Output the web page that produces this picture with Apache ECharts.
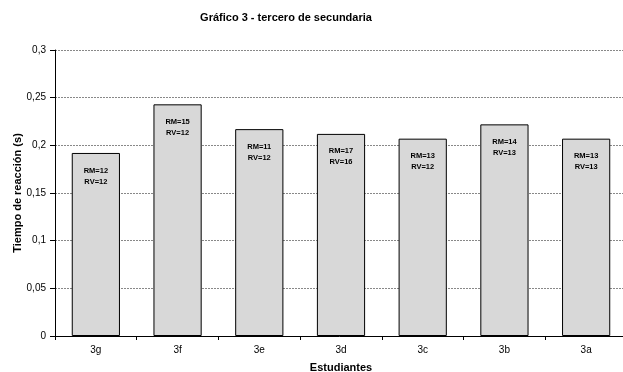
<!DOCTYPE html>
<html>
<head>
<meta charset="utf-8">
<script src="https://cdn.jsdelivr.net/npm/echarts@6/dist/echarts.min.js"></script>
<style>
  html, body { margin: 0; padding: 0; background: #fff; }
  #chart { width: 623px; height: 372px; }
</style>
</head>
<body>
<div id="chart"></div>
<script>
// Students (groups) and their mean reaction time in seconds
const categories = ['3g', '3f', '3e', '3d', '3c', '3b', '3a'];
const reactionTimes = [0.192, 0.243, 0.217, 0.212, 0.207, 0.222, 0.207];
const rmValues = [12, 15, 11, 17, 13, 14, 13];
const rvValues = [12, 12, 12, 16, 12, 13, 13];
const yTicks = [0, 0.05, 0.1, 0.15, 0.2, 0.25, 0.3];

const chart = echarts.init(document.getElementById('chart'), null, { renderer: 'canvas' });

const fmtComma = v => String(Math.round(v * 1000) / 1000).replace('.', ',');

chart.setOption({
  animation: false,
  backgroundColor: '#ffffff',
  textStyle: { fontFamily: 'Liberation Sans, Arial, sans-serif' },
  title: {
    text: 'Gráfico 3 - tercero de secundaria',
    left: 281,
    top: 7,
    textAlign: 'center',
    textStyle: { fontSize: 11, fontWeight: 'bold', color: '#000', fontFamily: 'Liberation Sans, Arial, sans-serif' }
  },
  grid: { left: 55, top: 50, width: 572, height: 286, containLabel: false, outerBoundsMode: 'none' },
  xAxis: {
    type: 'category',
    data: categories,
    name: 'Estudiantes',
    nameLocation: 'middle',
    nameGap: 26,
    nameTextStyle: { fontSize: 11, fontWeight: 'bold', color: '#000' },
    axisLine: { lineStyle: { color: '#000', width: 1 } },
    axisTick: { show: true, length: 4, lineStyle: { color: '#000' }, alignWithLabel: false },
    axisLabel: { fontSize: 10, color: '#000', margin: 9 },
    splitLine: { show: false }
  },
  yAxis: {
    type: 'value',
    min: 0,
    max: 0.3,
    interval: 0.05,
    name: 'Tiempo de reacción (s)',
    nameLocation: 'middle',
    nameGap: 32,
    nameMoveOverlap: false,
    nameTextStyle: { fontSize: 11, fontWeight: 'bold', color: '#000' },
    axisLine: { show: true, lineStyle: { color: '#000', width: 1 } },
    axisTick: { show: true, length: 5, lineStyle: { color: '#000' } },
    axisLabel: { fontSize: 10, color: '#000', margin: 9, formatter: v => fmtComma(v) },
    splitLine: { show: true, lineStyle: { color: '#888', type: [2, 1], width: 1 } }
  },
  series: [{
    type: 'bar',
    data: reactionTimes,
    barWidth: '59%',
    itemStyle: { color: '#d8d8d8', borderColor: '#000', borderWidth: 1 },
    label: {
      show: true,
      position: 'insideTop',
      distance: 12,
      fontSize: 7.5,
      fontWeight: 'bold',
      color: '#000',
      lineHeight: 11,
      formatter: p => 'RM=' + rmValues[p.dataIndex] + '\nRV=' + rvValues[p.dataIndex]
    }
  }]
});
</script>
</body>
</html>
